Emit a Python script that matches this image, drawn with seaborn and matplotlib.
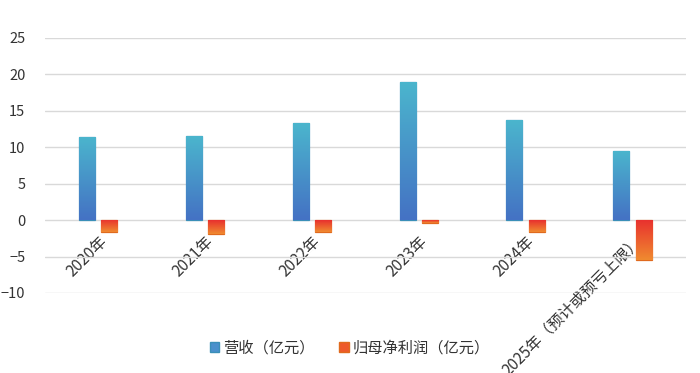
import numpy as np
import pandas as pd
import seaborn as sns
import matplotlib.pyplot as plt
from matplotlib.colors import LinearSegmentedColormap
from matplotlib.patches import Patch

# data
years = ['2020年', '2021年', '2022年', '2023年', '2024年', '2025年（预计或预亏上限）']
revenue = [11.4, 11.5, 13.3, 18.9, 13.7, 9.5]
net_profit = [-1.7, -1.9, -1.6, -0.4, -1.6, -5.5]
series_names = ['营收（亿元）', '归母净利润（亿元）']

df = pd.DataFrame({
    'year': years * 2,
    'value': revenue + net_profit,
    'series': [series_names[0]] * len(years) + [series_names[1]] * len(years),
})

sns.set_style('white')
plt.rcParams['font.family'] = ['Noto Sans CJK SC', 'DejaVu Sans']

fig = plt.figure(figsize=(7, 3.73), dpi=100)
ax = fig.add_axes([0.064, 0.2145, 0.916, 0.684])

sns.barplot(data=df, x='year', y='value', hue='series', order=years,
            hue_order=series_names, width=0.42, ax=ax, legend=False,
            palette=['#4A90CC', '#EE5A2A'])

# gradient fills (bottom color -> top color)
grads = {
    0: LinearSegmentedColormap.from_list('b', ['#4472C4', '#4BB5CD']),
    1: LinearSegmentedColormap.from_list('r', ['#F08A30', '#E8302E']),
}
edges = {0: '#3A8FB8', 1: '#E06A1E'}
bar_w = 0.15
grad = np.linspace(0, 1, 100).reshape(-1, 1)
for i, p in enumerate(ax.patches):
    s = i // len(years)
    cx = p.get_x() + p.get_width() / 2
    p.set_x(cx - bar_w / 2)
    p.set_width(bar_w)
    p.set_edgecolor(edges[s])
    p.set_linewidth(0.9)
    x0, y0 = p.get_x(), p.get_y()
    h = p.get_height()
    lo, hi = min(y0, y0 + h), max(y0, y0 + h)
    img = ax.imshow(grad, cmap=grads[s], aspect='auto', origin='lower',
                    extent=[x0, x0 + bar_w, lo, hi], zorder=p.get_zorder())
    img.set_clip_path(p)

ax.set_xlim(-0.5, len(years) - 0.5)
ax.set_ylim(-10, 25)
ax.set_yticks(range(-10, 26, 5))
ax.grid(axis='y', color='#D9D9D9', linewidth=1)
ax.set_axisbelow(True)
for sp in ax.spines.values():
    sp.set_visible(False)
# category labels sit at the zero line, like the original
ax.spines['bottom'].set_position(('data', 0))
ax.set_xlabel('')
ax.set_ylabel('')
ax.tick_params(axis='both', length=0, labelsize=10.5, colors='#333333')
ax.tick_params(axis='y', pad=14)
ax.set_xticks(range(len(years)))
ax.set_xticklabels(years, rotation=45, ha='right', rotation_mode='anchor')
ax.tick_params(axis='x', pad=9, labelsize=11.2)

handles = [Patch(facecolor='#4A90CC', edgecolor='#3A8FB8'),
           Patch(facecolor='#EE5A2A', edgecolor='#E06A1E')]
fig.legend(handles, series_names, loc='center', bbox_to_anchor=(0.5, 0.068),
           ncol=2, frameon=False, fontsize=11, handlelength=0.6,
           handleheight=0.6, handletextpad=0.3, columnspacing=1.6,
           labelcolor='#333333')

plt.savefig('out.png', dpi=100)
